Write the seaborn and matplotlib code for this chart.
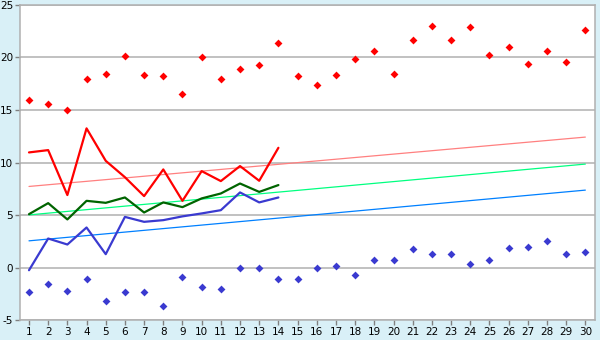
import matplotlib
matplotlib.use("Agg")
import matplotlib.pyplot as plt
import seaborn as sns
import pandas as pd
import numpy as np

days = list(range(1, 31))
line_days = list(range(1, 15))

rec_max = [16.0, 15.55, 14.97, 18.0, 18.4, 20.1, 18.3, 18.2, 16.5, 20.0,
           18.0, 18.9, 19.25, 21.35, 18.2, 17.35, 18.3, 19.9, 20.6, 18.4,
           21.7, 22.97, 21.65, 22.88, 20.2, 20.97, 19.35, 20.6, 19.55, 22.6]
rec_min = [-2.38, -1.53, -2.19, -1.14, -3.15, -2.29, -2.29, -3.62, -0.86, -1.9,
           -2.0, 0.0, 0.0, -1.05, -1.05, 0.0, 0.19, -0.76, 0.76, 0.76,
           1.81, 1.24, 1.24, 0.38, 0.67, 1.9, 2.0, 2.57, 1.33, 1.43]

t_max = [10.96, 11.18, 6.9, 13.25, 10.16, 8.6, 6.8, 9.34, 6.35, 9.18,
         8.23, 9.66, 8.26, 11.4]
t_mean = [5.08, 6.13, 4.58, 6.35, 6.16, 6.67, 5.24, 6.2, 5.75, 6.58,
          7.05, 8.0, 7.2, 7.85]
t_min = [-0.26, 2.76, 2.19, 3.81, 1.27, 4.82, 4.35, 4.51, 4.87, 5.15,
         5.46, 7.15, 6.2, 6.67]

trend_days = [1, 30]
norm_max = [7.72, 12.42]
norm_mean = [5.01, 9.85]
norm_min = [2.54, 7.37]

yticks = [-5, 0, 5, 10, 15, 20, 25]

sns.set_theme(style="white")
plt.rcParams['font.family'] = ['DejaVu Sans']

fig = plt.figure(figsize=(6, 3.4), dpi=100, facecolor="#d9f0f7")
ax = fig.add_axes([0.0333, 0.0588, 0.9589, 0.9265])
ax.set_facecolor("white")

for yv in yticks:
    ax.axhline(yv, color="#b0b0b0", lw=1.1, zorder=0)

sns.lineplot(x=trend_days, y=norm_max, color="#ff8080", lw=0.9, ax=ax)
sns.lineplot(x=trend_days, y=norm_mean, color="#00ff80", lw=0.9, ax=ax)
sns.lineplot(x=trend_days, y=norm_min, color="#0080ff", lw=0.9, ax=ax)

sns.lineplot(x=line_days, y=t_max, color="#ff0000", lw=1.6, ax=ax)
sns.lineplot(x=line_days, y=t_mean, color="#006400", lw=1.6, ax=ax)
sns.lineplot(x=line_days, y=t_min, color="#3a3ad0", lw=1.6, ax=ax)

sns.scatterplot(x=days, y=rec_max, color="#ff0000", marker="D", s=16,
                linewidth=0, ax=ax, zorder=5)
sns.scatterplot(x=days, y=rec_min, color="#3a3ad0", marker="D", s=16,
                linewidth=0, ax=ax, zorder=5)

ax.set_xlim(0.53, 30.52)
ax.set_ylim(-5, 25)
ax.set_xticks(days)
ax.set_xticklabels([str(d) for d in days])
ax.set_yticks(yticks)
ax.set_yticklabels([str(v) for v in yticks])
ax.tick_params(axis="both", which="both", length=3.5, width=1, color="#808080",
               labelsize=7.5, labelcolor="black", pad=1.5, direction="out",
               bottom=True, left=True)
for side in ["top", "right", "left", "bottom"]:
    ax.spines[side].set_visible(True)
    ax.spines[side].set_color("#b0b0b0")
    ax.spines[side].set_linewidth(1.1)
ax.set_xlabel("")
ax.set_ylabel("")
ax.grid(False)

fig.savefig("out.png", dpi=100, facecolor=fig.get_facecolor())
